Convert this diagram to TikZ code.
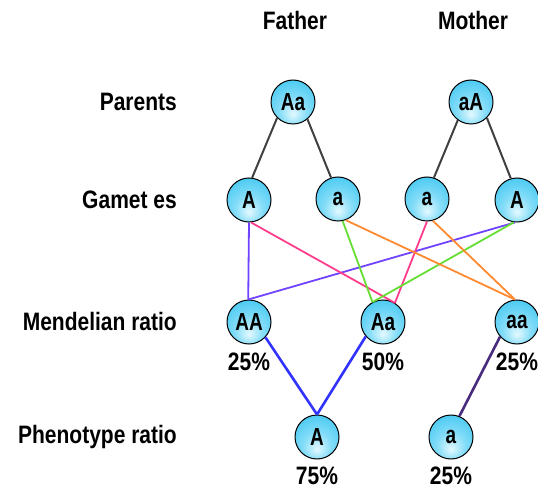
\documentclass[tikz,border=0pt]{standalone}
\usepackage{fontspec}
\setmainfont{Liberation Sans}
\usepackage{graphicx}
\definecolor{cellin}{HTML}{E4F9FF}
\definecolor{cellmid}{HTML}{84DDF8}
\definecolor{cellout}{HTML}{2EC0EF}
\definecolor{linegray}{HTML}{404040}
\definecolor{cviolet}{HTML}{7044FF}
\definecolor{cpink}{HTML}{FF3D8C}
\definecolor{cgreen}{HTML}{66DD33}
\definecolor{corange}{HTML}{FF8A30}
\definecolor{cblue}{HTML}{3333FF}
\definecolor{cdpurple}{HTML}{4A2A7C}
\pgfdeclareradialshading{cellshade}{\pgfpoint{0bp}{-14bp}}{color(0bp)=(cellin); color(16bp)=(cellmid); color(42bp)=(cellout); color(70bp)=(cellout)}
\newcommand{\stx}[1]{\scalebox{1}[1.2]{#1}}
\newcommand{\ctx}[1]{\scalebox{1}[1.3]{#1}}
\begin{document}
\begin{tikzpicture}[x=1pt,y=-1pt,
  lbl/.style={font=\fontsize{21}{24}\selectfont\bfseries, inner sep=0pt},
  cell/.style={circle, draw=black, line width=1pt, minimum size=44pt, inner sep=0pt, shade, shading=cellshade, font=\fontsize{19}{21}\selectfont\bfseries},
  parline/.style={draw=linegray, line width=2pt},
  gline/.style={line width=1.8pt},
  pline/.style={line width=2.6pt}]
\useasboundingbox (0,0) rectangle (538,489);
% titles and row labels
\node[lbl] (tF) at (295,20) {\stx{Father}};
\node[lbl] (tM) at (473,20) {\stx{Mother}};
\node[lbl, anchor=east] (lP) at (177,102) {\stx{Parents}};
\node[lbl, anchor=east] (lG) at (177,200) {\stx{Gamet es}};
\node[lbl, anchor=east] (lM) at (177,321) {\stx{Mendelian ratio}};
\node[lbl, anchor=east] (lR) at (177,437) {\stx{Phenotype ratio}};
% parents
\node[cell] (P1) at (293,102) {\ctx{Aa}};
\node[cell] (P2) at (471,102) {\ctx{aA}};
% gametes
\node[cell] (G1) at (249,200) {\ctx{A}};
\node[cell] (G2) at (338,199) {\ctx{a}};
\node[cell] (G3) at (427,199) {\ctx{a}};
\node[cell] (G4) at (517,200) {\ctx{A}};
% mendelian
\node[cell] (M1) at (249,322) {\ctx{AA}};
\node[cell] (M2) at (383,322) {\ctx{Aa}};
\node[cell] (M3) at (517,322) {\ctx{aa}};
\node[lbl] (pM1) at (249,362) {\stx{25\%}};
\node[lbl] (pM2) at (383,362) {\stx{50\%}};
\node[lbl] (pM3) at (517,362) {\stx{25\%}};
% phenotype
\node[cell] (R1) at (317,437) {\ctx{A}};
\node[cell] (R2) at (451,437) {\ctx{a}};
\node[lbl] (pR1) at (317,476) {\stx{75\%}};
\node[lbl] (pR2) at (451,476) {\stx{25\%}};
% parent to gamete
\draw[parline] (P1.225) -- (G1.82);
\draw[parline] (P1.310) -- (G2.108);
\draw[parline] (P2.234) -- (G3.72);
\draw[parline] (P2.315) -- (G4.106);
% gametes to mendelian
\draw[gline, cviolet] (G1.270) -- (M1.92);
\draw[gline, cviolet] (G4.265) -- (M1.92);
\draw[gline, cpink] (G1.275) -- (M2.58);
\draw[gline, cpink] (G3.270) -- (M2.58);
\draw[gline, cgreen] (G2.282) -- (M2.118);
\draw[gline, cgreen] (G4.262) -- (M2.118);
\draw[gline, corange] (G2.290) -- (M3.95);
\draw[gline, corange] (G3.285) -- (M3.95);
% mendelian to phenotype
\draw[pline, cblue] (M1.317) -- (R1.90);
\draw[pline, cblue] (M2.220) -- (R1.90);
\draw[pline, cdpurple] (M3.221) -- (R2.68);
\end{tikzpicture}
\end{document}
